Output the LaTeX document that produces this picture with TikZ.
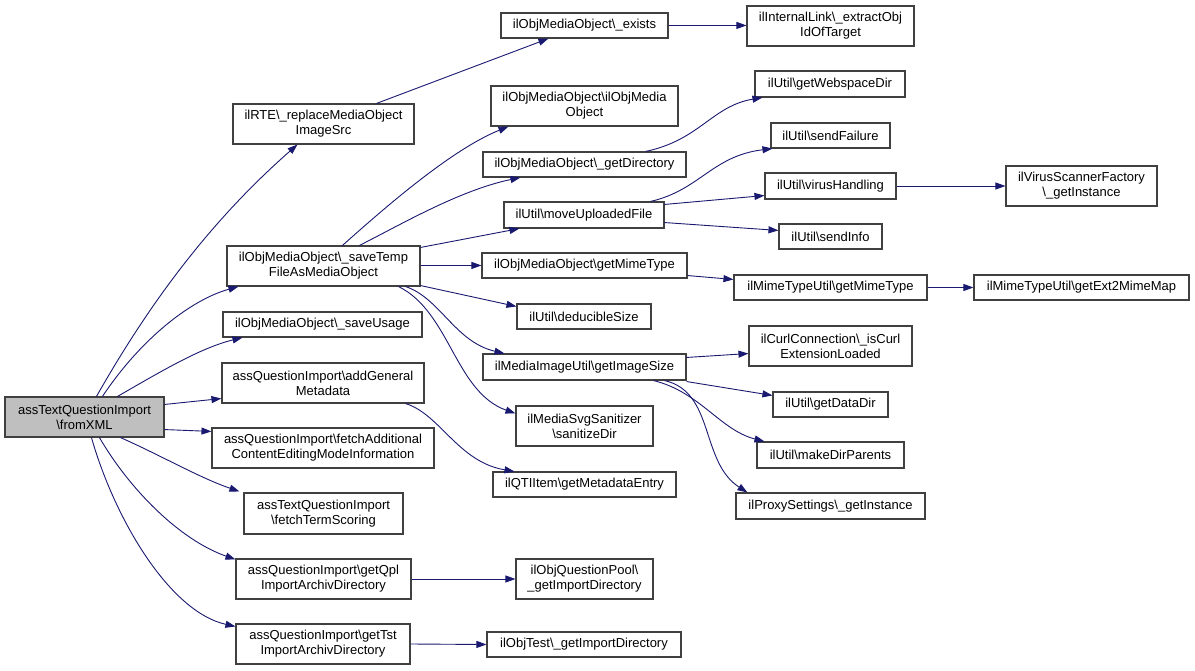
\documentclass[tikz,border=0pt]{standalone}
\usepackage{fontspec}
\setmainfont{Liberation Sans}
\usetikzlibrary{arrows.meta}
\definecolor{edgec}{RGB}{25,25,112}
\definecolor{boxc}{RGB}{64,64,64}
\definecolor{fillc}{RGB}{191,191,191}
\newcommand{\bs}{\textbackslash}
\newcommand{\bx}[7][]{\node[box,#1,minimum width={#4pt-#2pt},minimum height={#5pt-#3pt}] (#7) at ({(#2+#4)/2},{(#3+#5)/2}) {#6};}
\begin{document}
\begin{tikzpicture}[x=1pt,y=-1pt,
  box/.style={draw=boxc,line width=1.1pt,fill=white,inner sep=0pt,align=center,font=\fontsize{13}{15}\selectfont},
  edge/.style={draw=edgec,line width=0.9pt,-{Triangle[length=10pt,width=7pt]}}]
\useasboundingbox (0,0) rectangle (1195,671);
% column 0
\bx[fill=fillc]{5}{397}{164}{437}{assTextQuestionImport\\\bs fromXML}{f}
% column 1
\bx{233}{104}{414}{144}{ilRTE\bs\_replaceMediaObject\\ImageSrc}{rte}
\bx{227}{246}{420}{286}{ilObjMediaObject\bs\_saveTemp\\FileAsMediaObject}{st}
\bx{223}{312}{422}{337}{ilObjMediaObject\bs\_saveUsage}{su}
\bx{222}{363}{424}{403}{assQuestionImport\bs addGeneral\\Metadata}{ag}
\bx{212}{428}{434}{468}{assQuestionImport\bs fetchAdditional\\ContentEditingModeInformation}{fa}
\bx{244}{493}{403}{534}{assTextQuestionImport\\\bs fetchTermScoring}{ft}
\bx{236}{559}{411}{599}{assQuestionImport\bs getQpl\\ImportArchivDirectory}{gq}
\bx{236}{624}{410}{664}{assQuestionImport\bs getTst\\ImportArchivDirectory}{gt}
% column 2
\bx{501}{13}{668}{38}{ilObjMediaObject\bs\_exists}{ex}
\bx{491}{86}{678}{126}{ilObjMediaObject\bs ilObjMedia\\Object}{ct}
\bx{483}{152}{686}{177}{ilObjMediaObject\bs\_getDirectory}{gd}
\bx{504}{202}{664}{228}{ilUtil\bs moveUploadedFile}{mu}
\bx{482}{253}{687}{278}{ilObjMediaObject\bs getMimeType}{gm}
\bx{517}{304}{651}{329}{ilUtil\bs deducibleSize}{ds}
\bx{483}{354}{686}{380}{ilMediaImageUtil\bs getImageSize}{gi}
\bx{516}{406}{653}{446}{ilMediaSvgSanitizer\\\bs sanitizeDir}{sv}
\bx{493}{472}{676}{497}{ilQTIItem\bs getMetadataEntry}{qt}
\bx{516}{559}{653}{599}{ilObjQuestionPool\bs\\\_getImportDirectory}{qp}
\bx{487}{632}{681}{657}{ilObjTest\bs\_getImportDirectory}{ot}
% column 3
\bx{747}{6}{914}{46}{ilInternalLink\bs\_extractObj\\IdOfTarget}{il}
\bx{755}{71}{905}{97}{ilUtil\bs getWebspaceDir}{gw}
\bx{771}{123}{890}{148}{ilUtil\bs sendFailure}{sf}
\bx{765}{173}{896}{199}{ilUtil\bs virusHandling}{vh}
\bx{779}{224}{882}{249}{ilUtil\bs sendInfo}{si}
\bx{734}{275}{927}{300}{ilMimeTypeUtil\bs getMimeType}{mt}
\bx{749}{326}{912}{366}{ilCurlConnection\bs\_isCurl\\ExtensionLoaded}{cc}
\bx{773}{392}{888}{417}{ilUtil\bs getDataDir}{dd}
\bx{757}{442}{904}{468}{ilUtil\bs makeDirParents}{md}
\bx{736}{493}{925}{519}{ilProxySettings\bs\_getInstance}{ps}
% column 4
\bx{1006}{166}{1157}{206}{ilVirusScannerFactory\\\bs\_getInstance}{vs}
\bx{974}{275}{1189}{300}{ilMimeTypeUtil\bs getExt2MimeMap}{em}
% edges from fromXML
\draw[edge] ([xshift=92pt]f.north west) .. controls (140,320) and (200,230) .. ([xshift=65pt]rte.south west);
\draw[edge] ([xshift=98pt]f.north west) .. controls (140,340) and (190,300) .. ([xshift=12pt]st.south west);
\draw[edge] ([xshift=113pt]f.north west) .. controls (160,372) and (200,348) .. ([xshift=20pt]su.south west);
\draw[edge] ([yshift=-8pt]f.north east) -- ([yshift=5pt]ag.south west);
\draw[edge] ([yshift=8pt]f.south east) -- ([yshift=-4pt]fa.north west);
\draw[edge] ([xshift=116pt]f.south west) .. controls (160,455) and (200,478) .. ([xshift=-4pt,yshift=1pt]ft.north west);
\draw[edge] ([xshift=95pt]f.south west) .. controls (130,490) and (180,540) .. ([yshift=-1pt]gq.north west);
\draw[edge] ([xshift=87pt]f.south west) .. controls (115,520) and (170,612) .. ([yshift=-3pt]gt.north west);
% column 1 outgoing
\draw[edge] ([xshift=144pt]rte.north west) -- ([xshift=48pt]ex.south west);
\draw[edge] ([yshift=-13pt]ex.north east) -- ([yshift=-20pt]il.north west);
\draw[edge] ([xshift=116pt]st.north west) .. controls (380,212) and (450,150) .. ([xshift=18pt]ct.south west);
\draw[edge] ([xshift=133pt]st.north west) .. controls (400,225) and (460,190) .. ([xshift=38pt]gd.south west);
\draw[edge] ([yshift=-2pt]st.north east) -- ([xshift=16pt]mu.south west);
\draw[edge] ([yshift=-20pt]st.north east) -- ([yshift=-13pt]gm.north west);
\draw[edge] ([yshift=1pt]st.south east) -- ([yshift=-3pt]ds.north west);
\draw[edge] ([xshift=-15pt]st.south east) .. controls (440,298) and (455,342) .. ([xshift=22pt]gi.north west);
\draw[edge] ([xshift=-22pt]st.south east) .. controls (450,312) and (455,392) .. ([yshift=-8pt]sv.north west);
\draw[edge] ([xshift=-19pt]ag.south east) .. controls (440,414) and (458,462) .. ([xshift=22pt]qt.north west);
\draw[edge] (gq.east) -- (qp.west);
\draw[edge] (gt.east) -- (ot.west);
% column 2 outgoing
\draw[edge] ([xshift=-41pt]gd.north east) .. controls (700,140) and (712,106) .. ([xshift=8pt]gw.south west);
\draw[edge] ([xshift=-14pt]mu.north east) .. controls (700,190) and (712,156) .. ([xshift=2pt]sf.south west);
\draw[edge] ([yshift=-3pt]mu.north east) -- ([yshift=4pt]vh.south west);
\draw[edge] ([yshift=6pt]mu.south east) -- ([yshift=-7pt]si.north west);
\draw[edge] ([yshift=3pt]gm.south east) -- ([yshift=-5pt]mt.north west);
\draw[edge] (mt.east) -- (em.west);
\draw[edge] (vh.east) -- (vs.west);
\draw[edge] ([yshift=-4pt]gi.north east) -- ([yshift=13pt]cc.south west);
\draw[edge] ([yshift=-1pt]gi.south east) -- ([yshift=-4pt]dd.north west);
\draw[edge] ([xshift=-33pt]gi.south east) .. controls (700,392) and (720,430) .. ([xshift=8pt]md.north west);
\draw[edge] ([xshift=-22pt]gi.south east) .. controls (715,392) and (700,462) .. ([xshift=12pt]ps.north west);
\end{tikzpicture}
\end{document}
